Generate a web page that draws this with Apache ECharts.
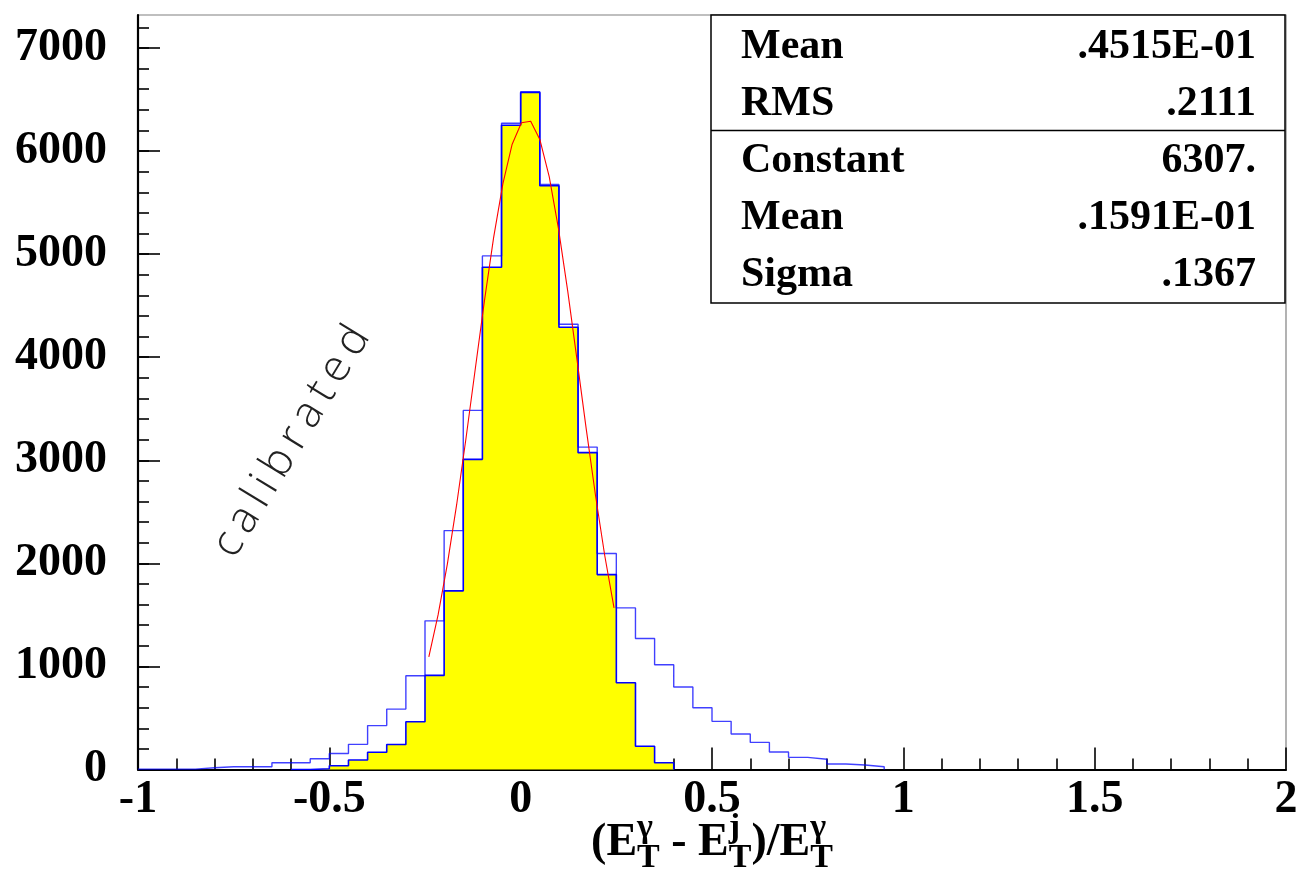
<!DOCTYPE html>
<html>
<head>
<meta charset="utf-8">
<script src="https://cdn.jsdelivr.net/npm/echarts@6/dist/echarts.min.js"></script>
<style>
  html, body { margin: 0; padding: 0; background: #fff; }
  #main { width: 1302px; height: 880px; }
</style>
</head>
<body>
<div id="main"></div>
<script>
// Histogram binning: lower edge of every 0.05-wide bin
const binWidth = 0.05;
const binLowEdges = [
  -1.00, -0.95, -0.90, -0.85, -0.80, -0.75, -0.70, -0.65, -0.60, -0.55,
  -0.50, -0.45, -0.40, -0.35, -0.30, -0.25, -0.20, -0.15, -0.10, -0.05,
   0.00,  0.05,  0.10,  0.15,  0.20,  0.25,  0.30,  0.35,  0.40,  0.45,
   0.50,  0.55,  0.60,  0.65,  0.70,  0.75,  0.80,  0.85,  0.90,  0.95
];

// Open (outline only) histogram
const countsOpen = [
     4,    4,    4,   17,   27,   27,   27,   66,   66,  105,
   155,  244,  426,  586,  909, 1442, 2318, 3484, 4983, 6270,
  6575, 5676, 4320, 3128, 2095, 1568, 1271, 1016,  800,  599,
   467,  344,  263,  170,  118,   99,   53,   44,   27,    0
];

// Filled (yellow) histogram
const countsFilled = [
     0,    0,    0,    0,    0,    0,    0,    0,    0,    8,
    37,   92,  167,  242,  463,  913, 1733, 3009, 4872, 6250,
  6568, 5664, 4291, 3074, 1891,  841,  225,   65,    0,    0,
     0,    0,    0,    0,    0,    0,    0,    0,    0,    0
];

// Gaussian fit result and its drawing range
const fitConstant = 6307;
const fitMean = 0.01591;
const fitSigma = 0.1367;
const fitRange = [-0.24, 0.244];
const fitSegments = 20;

// Axis ticks
const xTickLabels = ['-1', '-0.5', '0', '0.5', '1', '1.5', '2'];
const yMajorTicks = [0, 1000, 2000, 3000, 4000, 5000, 6000, 7000];
const yMinorTicks = [0, 200, 400, 600, 800, 1000, 1200, 1400, 1600, 1800, 2000, 2200, 2400, 2600,
  2800, 3000, 3200, 3400, 3600, 3800, 4000, 4200, 4400, 4600, 4800, 5000, 5200, 5400, 5600,
  5800, 6000, 6200, 6400, 6600, 6800, 7000, 7200];

// Statistics box
const statsLabels = ['Mean', 'RMS', 'Constant', 'Mean', 'Sigma'];
const statsValues = ['.4515E-01', '.2111', '6307.', '.1591E-01', '.1367'];

const sideLabel = 'calibrated';

// ---------------------------------------------------------------
const SERIF = '"Liberation Serif", "Times New Roman", serif';

function stepData(counts, from, to) {
  const pts = [];
  for (let i = from; i <= to; i++) pts.push([binLowEdges[i], counts[i]]);
  pts.push([+(binLowEdges[to] + binWidth).toFixed(4), 0]);
  return pts;
}

function fitData() {
  const pts = [];
  const step = (fitRange[1] - fitRange[0]) / fitSegments;
  for (let k = 0; k <= fitSegments; k++) {
    const x = fitRange[0] + k * step;
    const z = (x - fitMean) / fitSigma;
    pts.push([x, fitConstant * Math.exp(-0.5 * z * z)]);
  }
  return pts;
}

const measureCtx = document.createElement('canvas').getContext('2d');
function textWidth(str, font) {
  measureCtx.font = font;
  return measureCtx.measureText(str).width;
}

// Axis title (E_T^γ - E_T^j)/E_T^γ with stacked sub/superscripts
function buildAxisTitle(centerX) {
  const mainFont = 'bold 46px ' + SERIF;
  const smallFont = 'bold 34px ' + SERIF;
  const parts = [
    { main: '(E' },
    { sub: 'T', sup: 'γ' },
    { main: ' - E' },
    { sub: 'T', sup: 'j' },
    { main: ')/E' },
    { sub: 'T', sup: 'γ' }
  ];
  let total = 0;
  parts.forEach(p => {
    p.w = p.main ? textWidth(p.main, mainFont)
                 : Math.max(textWidth(p.sub, smallFont), textWidth(p.sup, smallFont));
    total += p.w;
  });
  let x = centerX - total / 2;
  const out = [];
  const mk = (t, xx, yy, font) => ({
    type: 'text', x: xx, y: yy, z: 50,
    style: { text: t, font: font, fill: '#000', align: 'left', verticalAlign: 'middle' }
  });
  parts.forEach(p => {
    if (p.main) {
      out.push(mk(p.main, x, 843, mainFont));
    } else {
      out.push(mk(p.sub, x, 858, smallFont));
      out.push(mk(p.sup, x, 828, smallFont));
    }
    x += p.w;
  });
  return out;
}

// Rotated, thin label
function buildSideLabel() {
  const fs = 44;
  const font = '200 ' + fs + 'px "Open Sans", "DejaVu Sans", sans-serif';
  const chars = sideLabel.split('');
  const widths = chars.map(c => textWidth(c, font));
  const totalLen = 262;
  const natural = widths.reduce((a, b) => a + b, 0);
  const gap = (totalLen - natural) / (chars.length - 1);
  const children = [];
  let x = 0;
  chars.forEach((c, i) => {
    children.push({
      type: 'text', x: x, y: 0,
      style: { text: c, font: font, fill: '#222', align: 'left', verticalAlign: 'bottom' }
    });
    x += widths[i] + gap;
  });
  return {
    type: 'group', x: 242, y: 565, rotation: Math.atan2(229, 140), z: 40,
    children: children
  };
}

function buildStatsBox() {
  const box = { x: 711, y: 15, w: 574, h: 288 };
  const rowY = [47, 104, 161, 218, 275];
  const els = [
    { type: 'rect', z: 30, shape: { x: box.x, y: box.y, width: box.w, height: box.h },
      style: { fill: '#fff', stroke: '#000', lineWidth: 1.5 } },
    { type: 'line', z: 31, shape: { x1: box.x, y1: 130.5, x2: box.x + box.w, y2: 130.5 },
      style: { stroke: '#000', lineWidth: 1.5 } }
  ];
  const font = 'bold 42px ' + SERIF;
  statsLabels.forEach((lab, i) => {
    els.push({ type: 'text', z: 32, x: 741, y: rowY[i],
      style: { text: lab, font: font, fill: '#000', align: 'left', verticalAlign: 'middle' } });
    els.push({ type: 'text', z: 32, x: 1256, y: rowY[i],
      style: { text: statsValues[i], font: font, fill: '#000', align: 'right', verticalAlign: 'middle' } });
  });
  return els;
}

const chart = echarts.init(document.getElementById('main'), null, { renderer: 'canvas' });

const tickLabelStyle = {
  fontFamily: SERIF, fontWeight: 'bold', fontSize: 46, color: '#000'
};

chart.setOption({
  animation: false,
  backgroundColor: '#fff',
  grid: {
    left: 138, top: 15, width: 1148, height: 754.5,
    show: true, borderColor: '#808080', borderWidth: 1.2, backgroundColor: 'transparent'
  },
  xAxis: {
    type: 'value', min: -1, max: 2, interval: 0.5,
    axisLine: { show: true, onZero: false, lineStyle: { color: '#000', width: 2.2 } },
    axisTick: { show: true, inside: true, length: 22, lineStyle: { color: '#000', width: 1.6 } },
    minorTick: { show: true, splitNumber: 5, length: 11, lineStyle: { color: '#000', width: 1.6 } },
    splitLine: { show: false },
    minorSplitLine: { show: false },
    axisLabel: Object.assign({
      margin: 8, showMinLabel: true, showMaxLabel: true,
      formatter: v => xTickLabels[Math.round((v + 1) / 0.5)]
    }, tickLabelStyle)
  },
  yAxis: [{
    type: 'value', min: 0, max: 7320, position: 'left',
    axisLine: { show: true, onZero: false, lineStyle: { color: '#000', width: 2.2 } },
    axisTick: { show: true, inside: true, length: 22, customValues: yMajorTicks,
      lineStyle: { color: '#000', width: 1.6 } },
    axisLabel: Object.assign({ margin: 31, customValues: yMajorTicks,
      formatter: v => String(v) }, tickLabelStyle),
    splitLine: { show: false }
  }, {
    type: 'value', min: 0, max: 7320, position: 'left', offset: 0,
    axisLine: { show: false, onZero: false },
    axisTick: { show: true, inside: true, length: 11, customValues: yMinorTicks,
      lineStyle: { color: '#000', width: 1.6 } },
    axisLabel: { show: false },
    splitLine: { show: false }
  }],
  series: [{
    name: 'filled', type: 'line', step: 'end', symbol: 'none', silent: true,
    data: stepData(countsFilled, 8, 27),
    lineStyle: { color: '#0000ff', width: 1.6 },
    areaStyle: { color: '#ffff00', opacity: 1 },
    z: 3
  }, {
    name: 'open', type: 'line', step: 'end', symbol: 'none', silent: true,
    data: stepData(countsOpen, 0, 38),
    lineStyle: { color: 'rgba(0,0,255,0.75)', width: 1.4 },
    z: 4
  }, {
    name: 'fit', type: 'line', symbol: 'none', silent: true, smooth: false,
    data: fitData(),
    lineStyle: { color: '#ff0000', width: 1.1 },
    z: 5
  }],
  graphic: [].concat(buildStatsBox(), buildAxisTitle(712), [buildSideLabel()])
});
</script>
</body>
</html>
